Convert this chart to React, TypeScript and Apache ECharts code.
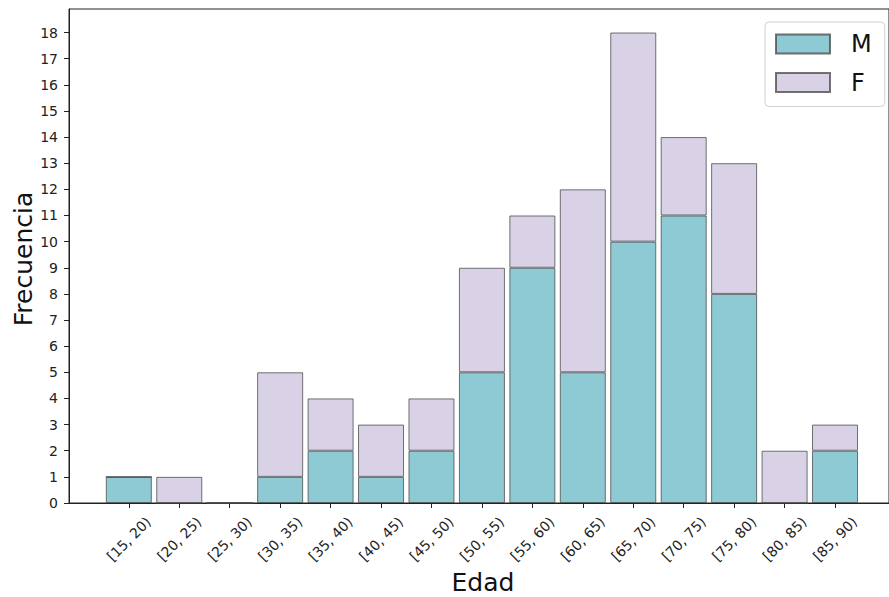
import React, { useEffect, useRef } from "react";
import * as echarts from "echarts";

const categories = ["[15, 20)", "[20, 25)", "[25, 30)", "[30, 35)", "[35, 40)", "[40, 45)", "[45, 50)", "[50, 55)", "[55, 60)", "[60, 65)", "[65, 70)", "[70, 75)", "[75, 80)", "[80, 85)", "[85, 90)"];
const valuesM = [1, 0, 0, 1, 2, 1, 2, 5, 9, 5, 10, 11, 8, 0, 2];
const valuesF = [0, 1, 0, 4, 2, 2, 2, 4, 2, 7, 8, 3, 5, 2, 1];
const yTicks = [0, 1, 2, 3, 4, 5, 6, 7, 8, 9, 10, 11, 12, 13, 14, 15, 16, 17, 18];

const FONT = "DejaVu Sans";
const COLOR_M = "#8ecad4";
const COLOR_F = "#d9d2e7";
const EDGE = "rgba(70,70,70,0.75)";

export default function App() {
  const ref = useRef<HTMLDivElement>(null);
  useEffect(() => {
    if (!ref.current) return;
    const chart = echarts.init(ref.current, null, { renderer: "svg" });
    const xIdx = categories.map((_, i) => i);
    chart.setOption({
      animation: false,
      backgroundColor: "#ffffff",
      textStyle: { fontFamily: FONT },
      grid: { left: 69, right: -2, top: 9, bottom: 94, show: true, borderColor: "#222", borderWidth: 1, backgroundColor: "transparent" },
      xAxis: {
        type: "value",
        min: -1.186,
        max: 15.07,
        splitLine: { show: false },
        axisLine: { show: true, lineStyle: { color: "#222", width: 1 } },
        axisTick: { show: true, customValues: xIdx, length: 5, lineStyle: { color: "#222" } },
        axisLabel: {
          customValues: xIdx,
          rotate: 45,
          align: "center",
          verticalAlign: "middle",
          margin: 36,
          fontSize: 14,
          color: "#222",
          fontFamily: FONT,
          formatter: (v: number) => categories[Math.round(v)] ?? "",
        },
      },
      yAxis: {
        type: "value",
        min: 0,
        max: 18.9,
        splitLine: { show: false },
        axisLine: { show: true, onZero: false, lineStyle: { color: "#222", width: 1 } },
        axisTick: { show: true, customValues: yTicks, length: 5, lineStyle: { color: "#222" } },
        axisLabel: { customValues: yTicks, margin: 11, fontSize: 14, color: "#222", fontFamily: FONT },
      },
      legend: {
        orient: "vertical",
        left: 765,
        top: 22,
        padding: [10, 13, 12, 10],
        itemWidth: 54,
        itemHeight: 19,
        itemGap: 14.5,
        borderColor: "#d0d0d0",
        borderWidth: 1,
        borderRadius: 4,
        backgroundColor: "#ffffff",
        textStyle: { fontSize: 24, fontFamily: FONT, color: "#111", lineHeight: 24, padding: [0, 0, 0, 16] },
        data: [
          { name: "M", icon: "rect" },
          { name: "F", icon: "rect" },
        ],
      },
      series: [
        {
          name: "M",
          type: "bar",
          stack: "total",
          barWidth: 46,
          encode: { x: 1, y: 0 },
          itemStyle: { color: COLOR_M, borderColor: EDGE, borderWidth: 1 },
          data: valuesM.map((v, i) => [v, i]),
        },
        {
          name: "F",
          type: "bar",
          stack: "total",
          barWidth: 46,
          encode: { x: 1, y: 0 },
          itemStyle: { color: COLOR_F, borderColor: EDGE, borderWidth: 1 },
          data: valuesF.map((v, i) => [v, i]),
        },
      ],
      graphic: [
        {
          type: "text",
          x: 483,
          y: 582,
          style: { text: "Edad", fontSize: 25, fontFamily: FONT, fill: "#111", align: "center", verticalAlign: "middle" },
        },
        {
          type: "text",
          x: 23,
          y: 259,
          rotation: Math.PI / 2,
          style: { text: "Frecuencia", fontSize: 25, fontFamily: FONT, fill: "#111", align: "center", verticalAlign: "middle" },
        },
      ],
    });
    return () => chart.dispose();
  }, []);
  return <div ref={ref} style={{ position: "fixed", left: 0, top: 0, width: 889, height: 597 }} />;
}
